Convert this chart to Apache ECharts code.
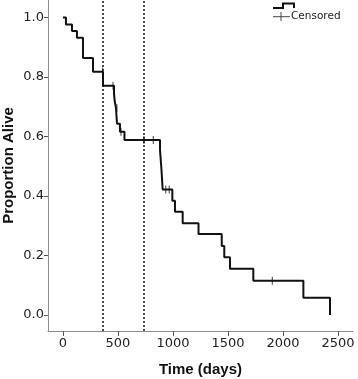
<!DOCTYPE html>
<html>
<head>
<meta charset="utf-8">
<script src="https://cdn.jsdelivr.net/npm/echarts@6/dist/echarts.min.js"></script>
<style>
  html, body { margin: 0; padding: 0; background: #fff; }
  #chart { width: 358px; height: 379px; }
</style>
</head>
<body>
<div id="chart"></div>
<script>
// Kaplan-Meier steps: time (days) where survival drops, and new survival value
var stepTimes = [0, 27, 82, 127, 182, 273, 364, 464, 470, 482, 491, 518, 559, 882, 895, 906, 994, 1018, 1088, 1232, 1443, 1466, 1518, 1730, 2185, 2427];
var stepSurv = [1.0, 0.977, 0.955, 0.932, 0.864, 0.818, 0.771, 0.745, 0.72, 0.695, 0.643, 0.616, 0.588, 0.555, 0.49, 0.422, 0.384, 0.347, 0.308, 0.272, 0.232, 0.194, 0.155, 0.115, 0.058, 0.0];

// censored observations
var censTimes = [360, 455, 490, 527, 736, 821, 934, 966, 1903];
var censSurv = [0.818, 0.771, 0.695, 0.616, 0.588, 0.588, 0.422, 0.422, 0.115];

// reference lines (1 year, 2 years)
var refLines = [365, 730];

var xTicks = [0, 500, 1000, 1500, 2000, 2500];
var yTicks = [0, 0.2, 0.4, 0.6, 0.8, 1.0];

var chart = echarts.init(document.getElementById("chart"));

var axisGray = "#8c8c8c";
var option = {
  animation: false,
  grid: { left: 48, right: 5, top: 0, bottom: 48, outerBoundsMode: "none" },
  xAxis: {
    type: "value",
    min: -136,
    max: 2636,
    name: "Time (days)",
    nameLocation: "middle",
    nameGap: 31,
    nameMoveOverlap: false,
    nameTextStyle: { fontFamily: "Liberation Sans", fontWeight: "bold", fontSize: 15, color: "#111" },
    axisLine: { show: true, onZero: false, lineStyle: { color: axisGray, width: 1 } },
    axisTick: { show: true, length: 5, customValues: xTicks, lineStyle: { color: "#555" } },
    axisLabel: {
      customValues: xTicks,
      margin: 6,
      fontFamily: "DejaVu Sans",
      fontSize: 13,
      color: "#222",
      formatter: function (v) { return String(v); }
    },
    splitLine: { show: false }
  },
  yAxis: {
    type: "value",
    min: -0.054,
    max: 1.059,
    name: "Proportion Alive",
    nameLocation: "middle",
    nameGap: 32,
    nameMoveOverlap: false,
    nameTextStyle: { fontFamily: "Liberation Sans", fontWeight: "bold", fontSize: 15, color: "#111" },
    axisLine: { show: true, onZero: false, lineStyle: { color: axisGray, width: 1 } },
    axisTick: { show: true, length: 4, customValues: yTicks, lineStyle: { color: "#555" } },
    axisLabel: {
      customValues: yTicks,
      margin: 4,
      fontFamily: "DejaVu Sans",
      fontSize: 13,
      color: "#222",
      formatter: function (v) { return v.toFixed(1); }
    },
    splitLine: { show: false }
  },
  series: [
    {
      name: "Survival",
      type: "line",
      step: "end",
      symbol: "none",
      lineStyle: { color: "#111", width: 2 },
      data: stepTimes.map(function (t, i) { return [t, stepSurv[i]]; }),
      markLine: {
        silent: true,
        symbol: "none",
        label: { show: false },
        lineStyle: { color: "#111", type: [2, 2], width: 1.5 },
        data: refLines.map(function (d) { return { xAxis: d }; })
      }
    },
    {
      name: "Censored",
      type: "scatter",
      symbol: "rect",
      symbolSize: [1.2, 8],
      itemStyle: { color: "#333" },
      data: censTimes.map(function (t, i) { return [t, censSurv[i]]; })
    }
  ],
  graphic: [
    {
      type: "polyline",
      shape: { points: [[273, 8], [283, 8], [283, 3.5], [294, 3.5], [294, 8]] },
      style: { stroke: "#111", lineWidth: 2, fill: null }
    },
    {
      type: "line",
      shape: { x1: 273, y1: 16.7, x2: 290, y2: 16.7 },
      style: { stroke: "#444", lineWidth: 1 }
    },
    {
      type: "line",
      shape: { x1: 281, y1: 12, x2: 281, y2: 21 },
      style: { stroke: "#444", lineWidth: 1 }
    },
    {
      type: "text",
      left: 291,
      top: 11,
      style: { text: "Censored", fontFamily: "DejaVu Sans", fontSize: 10.5, fill: "#222" }
    }
  ]
};

chart.setOption(option);
</script>
</body>
</html>
